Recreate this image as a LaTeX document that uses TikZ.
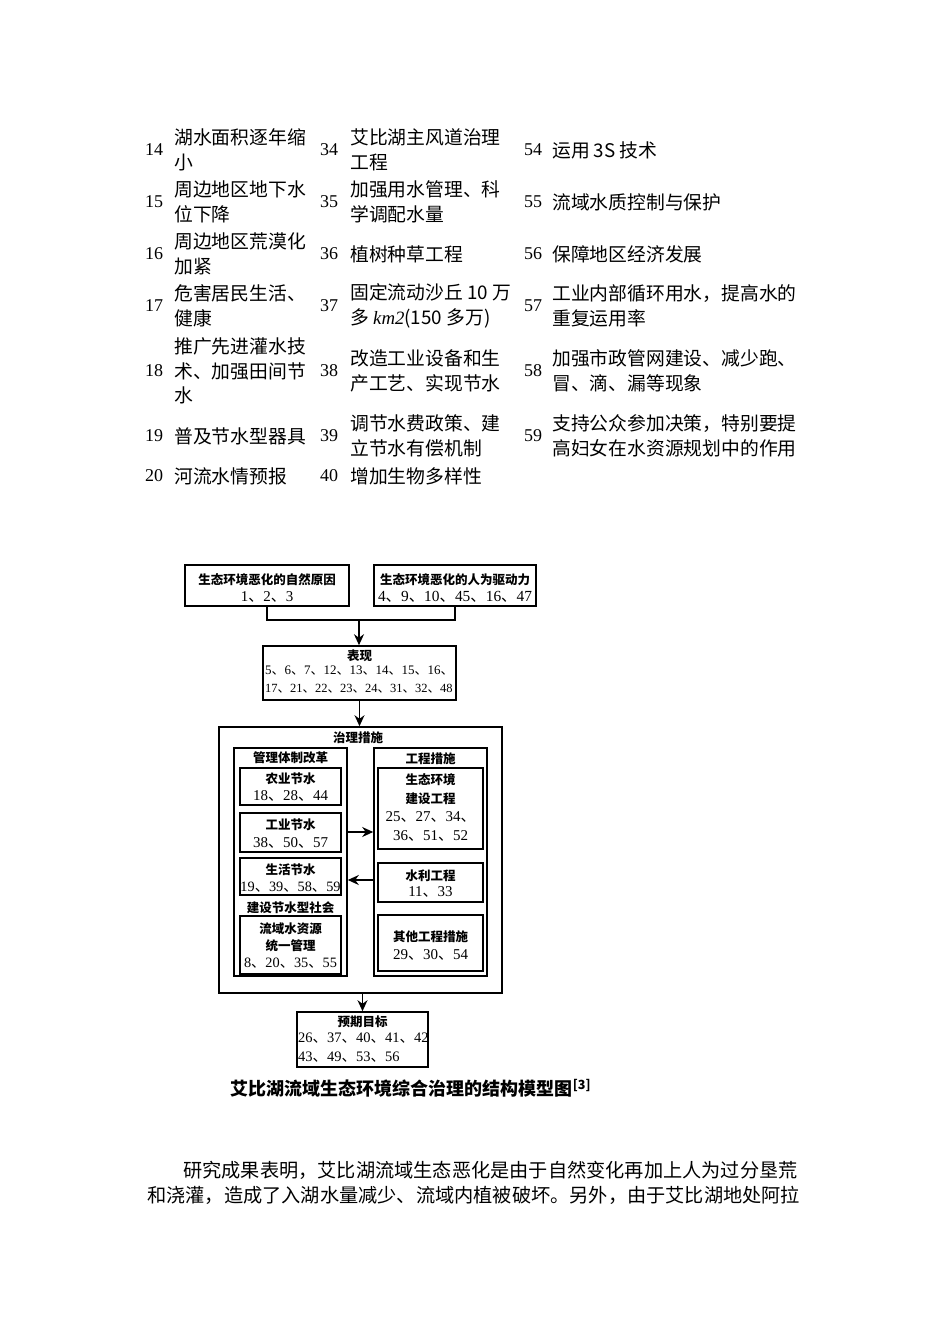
\documentclass[tikz,border=0pt]{standalone}
\usepackage{fontspec}
\setmainfont{Liberation Serif}
\newfontfamily\cjk{Noto Sans CJK SC}
\usetikzlibrary{arrows.meta}
\newcommand\dn{{\cjk 、}}
\begin{document}
\begin{tikzpicture}[x=1pt,y=-1pt,
  box/.style={draw, line width=1.6pt, inner sep=0},
  arr/.style={-{Stealth[length=11pt,width=10pt]}, line width=1.6pt},
  lnk/.style={line width=1.6pt},
  tt/.style={anchor=west, align=left, inner sep=0, font=\cjk\fontsize{18.8}{24.5}\selectfont},
  tn/.style={anchor=west, inner sep=0, font=\fontsize{18}{20}\selectfont},
  ct/.style={inner sep=0, font=\cjk\bfseries\fontsize{12.5}{14}\selectfont},
  cn/.style={inner sep=0, font=\fontsize{15}{17}\selectfont},
  para/.style={anchor=west, inner sep=0, font=\cjk\fontsize{19.2}{20}\selectfont}]
\path[use as bounding box, fill=white] (0,0) rectangle (950,1344);

% ---------- table ----------
\node[tn] (n14) at (145,150) {14};
\node[tt] (t14) at (174,150) {湖水面积逐年缩\\小};
\node[tn] (n34) at (320,150) {34};
\node[tt] (t34) at (350,150) {艾比湖主风道治理\\工程};
\node[tn] (n54) at (524,150) {54};
\node[tt] (t54) at (552,150) {运用 3S 技术};

\node[tn] (n15) at (145,202) {15};
\node[tt] (t15) at (174,202) {周边地区地下水\\位下降};
\node[tn] (n35) at (320,202) {35};
\node[tt] (t35) at (350,202) {加强用水管理、科\\学调配水量};
\node[tn] (n55) at (524,202) {55};
\node[tt] (t55) at (552,202) {流域水质控制与保护};

\node[tn] (n16) at (145,254) {16};
\node[tt] (t16) at (174,254) {周边地区荒漠化\\加紧};
\node[tn] (n36) at (320,254) {36};
\node[tt] (t36) at (350,254) {植树种草工程};
\node[tn] (n56) at (524,254) {56};
\node[tt] (t56) at (552,254) {保障地区经济发展};

\node[tn] (n17) at (145,306) {17};
\node[tt] (t17) at (174,306) {危害居民生活、\\健康};
\node[tn] (n37) at (320,306) {37};
\node[tt] (t37) at (350,306) {固定流动沙丘 10 万\\多 {\normalfont\itshape km2}(150 多万)};
\node[tn] (n57) at (524,306) {57};
\node[tt] (t57) at (552,306) {工业内部循环用水，提高水的\\重复运用率};

\node[tn] (n18) at (145,371) {18};
\node[tt] (t18) at (174,371) {推广先进灌水技\\术、加强田间节\\水};
\node[tn] (n38) at (320,371) {38};
\node[tt] (t38) at (350,371) {改造工业设备和生\\产工艺、实现节水};
\node[tn] (n58) at (524,371) {58};
\node[tt] (t58) at (552,371) {加强市政管网建设、减少跑、\\冒、滴、漏等现象};

\node[tn] (n19) at (145,436) {19};
\node[tt] (t19) at (174,436) {普及节水型器具};
\node[tn] (n39) at (320,436) {39};
\node[tt] (t39) at (350,436) {调节水费政策、建\\立节水有偿机制};
\node[tn] (n59) at (524,436) {59};
\node[tt] (t59) at (552,436) {支持公众参加决策，特别要提\\高妇女在水资源规划中的作用};

\node[tn] (n20) at (145,476) {20};
\node[tt] (t20) at (174,476) {河流水情预报};
\node[tn] (n40) at (320,476) {40};
\node[tt] (t40) at (350,476) {增加生物多样性};

% ---------- diagram ----------
\node[box, minimum width=164, minimum height=41] (b1) at (267,585.5) {};
\node[ct] (b1t) at (267,580) {生态环境恶化的自然原因};
\node[cn] (b1n) at (267,597) {1\dn 2\dn 3};

\node[box, minimum width=162, minimum height=41] (b2) at (455,585.5) {};
\node[ct] (b2t) at (455,580) {生态环境恶化的人为驱动力};
\node[cn, font=\fontsize{15.4}{18}\selectfont] (b2n) at (455,597) {4\dn 9\dn 10\dn 45\dn 16\dn 47};

\coordinate (j) at (359,620);
\draw[lnk] (b1.south) |- (j) -| (b2.south);

\node[box, minimum width=193, minimum height=54] (b3) at (359.5,673) {};
\node[ct] (b3t) at (359.5,656) {表现};
\node[cn, anchor=west, font=\fontsize{13}{15}\selectfont] (b3a) at (265,671) {5\dn 6\dn 7\dn 12\dn 13\dn 14\dn 15\dn 16\dn};
\node[cn, anchor=west, font=\fontsize{12.5}{15}\selectfont] (b3b) at (265,689) {17\dn 21\dn 22\dn 23\dn 24\dn 31\dn 32\dn 48};
\draw[arr] (j) -- (j |- b3.north);

\node[box, minimum width=283, minimum height=266] (out) at (360.5,860) {};
\node[ct] (outt) at (358,738) {治理措施};
\draw[arr] (b3.south) -- (b3.south |- out.north);

\node[box, minimum width=113, minimum height=228] (mg) at (290.5,862) {};
\node[ct] (mgt) at (290.5,758) {管理体制改革};
\node[box, minimum width=101, minimum height=37] (ny) at (290.5,786.5) {};
\node[ct] (nyt) at (290.5,779) {农业节水};
\node[cn] (nyn) at (290.5,796) {18\dn 28\dn 44};
\node[box, minimum width=101, minimum height=39] (gy) at (290.5,832.5) {};
\node[ct] (gyt) at (290.5,825) {工业节水};
\node[cn] (gyn) at (290.5,843) {38\dn 50\dn 57};
\node[box, minimum width=101, minimum height=37] (sh) at (290.5,876.5) {};
\node[ct] (sht) at (290.5,870) {生活节水};
\node[cn, font=\fontsize{14.3}{16}\selectfont] (shn) at (290.5,887) {19\dn 39\dn 58\dn 59};
\node[ct] (jst) at (290.5,908) {建设节水型社会};
\node[box, minimum width=101, minimum height=58] (ly) at (290.5,945) {};
\node[ct] (lyt1) at (290.5,929) {流域水资源};
\node[ct] (lyt2) at (290.5,946) {统一管理};
\node[cn, font=\fontsize{14.3}{16}\selectfont] (lyn) at (290.5,963) {8\dn 20\dn 35\dn 55};

\node[box, minimum width=113, minimum height=228] (gc) at (430.5,862) {};
\node[ct] (gct) at (430.5,759) {工程措施};
\node[box, minimum width=105, minimum height=81] (st) at (430.5,808.5) {};
\node[ct] (stt1) at (430.5,780) {生态环境};
\node[ct] (stt2) at (430.5,799) {建设工程};
\node[cn] (stn1) at (430.5,817) {25\dn 27\dn 34\dn};
\node[cn] (stn2) at (430.5,836) {36\dn 51\dn 52};
\node[box, minimum width=105, minimum height=39] (sl) at (430.5,882.5) {};
\node[ct] (slt) at (430.5,876) {水利工程};
\node[cn] (sln) at (430.5,892) {11\dn 33};
\node[box, minimum width=105, minimum height=56] (qt) at (430.5,943) {};
\node[ct] (qtt) at (430.5,937) {其他工程措施};
\node[cn] (qtn) at (430.5,955) {29\dn 30\dn 54};

\draw[arr] (mg.east |- 0,832) -- (gc.west |- 0,832);
\draw[arr] (gc.west |- 0,880) -- (mg.east |- 0,880);

\node[box, minimum width=131, minimum height=55] (yq) at (362.5,1039.5) {};
\node[ct] (yqt) at (362.5,1022) {预期目标};
\node[cn, anchor=west, font=\fontsize{14.5}{16}\selectfont] (yqa) at (298,1038) {26\dn 37\dn 40\dn 41\dn 42};
\node[cn, anchor=west, font=\fontsize{14.5}{16}\selectfont] (yqb) at (298,1057) {43\dn 49\dn 53\dn 56};
\draw[arr] (out.south -| yq.north) -- (yq.north);

\node[inner sep=0, font=\cjk\bfseries\fontsize{18}{20}\selectfont] (cap) at (411,1088) {艾比湖流域生态环境综合治理的结构模型图\textsuperscript{[3]}};

% ---------- paragraph ----------
\node[para] (p1) at (183,1170) {研究成果表明，艾比湖流域生态恶化是由于自然变化再加上人为过分垦荒};
\node[para] (p2) at (147,1195) {和浇灌，造成了入湖水量减少、流域内植被破坏。另外，由于艾比湖地处阿拉};
\end{tikzpicture}
\end{document}
